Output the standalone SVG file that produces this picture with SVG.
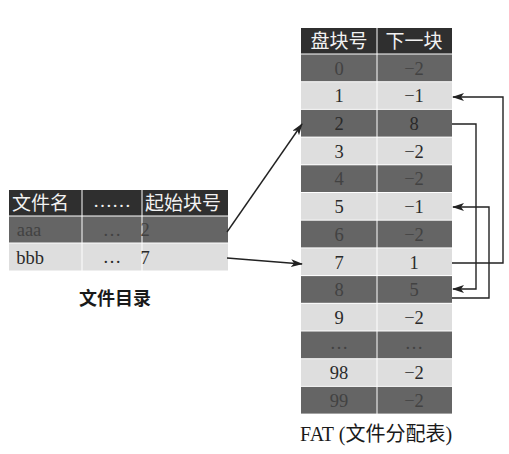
<svg xmlns="http://www.w3.org/2000/svg" width="509" height="454" viewBox="0 0 509 454">
<defs>
<marker id="ah" markerWidth="12" markerHeight="8" refX="11" refY="4" orient="auto" markerUnits="userSpaceOnUse">
<path d="M0,0 L12,4 L0,8 L3,4 z" fill="#222"/>
</marker>
<style>
.hd{fill:#2f2f2f}
.dk{fill:#656565}
.lt{fill:#dedede}
.th{font-family:"Liberation Serif","Noto Sans CJK SC",serif;font-size:19px;fill:#f2f2f2}
.tx{font-family:"Liberation Serif","Noto Sans CJK SC",serif;font-size:18.5px;text-anchor:middle}
.td{fill:#424242}
.tl{fill:#2a2a2a}
.ln{fill:none;stroke:#222;stroke-width:1.4}
</style>
</defs>
<rect width="509" height="454" fill="#ffffff"/>

<g id="dir-table">
<rect class="hd" x="9" y="190" width="72.5" height="25.5"/>
<rect class="hd" x="82.5" y="190" width="59" height="25.5"/>
<rect class="hd" x="142.5" y="190" width="85.5" height="25.5"/>
<rect class="dk" x="9" y="216.5" width="72.5" height="26"/>
<rect class="dk" x="82.5" y="216.5" width="59" height="26"/>
<rect class="dk" x="142.5" y="216.5" width="85.5" height="26"/>
<rect class="lt" x="9" y="243.5" width="72.5" height="27"/>
<rect class="lt" x="82.5" y="243.5" width="59" height="27"/>
<rect class="lt" x="142.5" y="243.5" width="85.5" height="27"/>
<text class="th" x="12" y="210">文件名</text>
<text class="th" x="112" y="207" text-anchor="middle">……</text>
<text class="th" x="145" y="210">起始块号</text>
<text class="tx td" x="29" y="236">aaa</text>
<text class="tx td" x="112" y="236">…</text>
<text class="tx td" x="145" y="236" text-anchor="start">2</text>
<text class="tx tl" x="30" y="264">bbb</text>
<text class="tx tl" x="112" y="263">…</text>
<text class="tx tl" x="145" y="264" text-anchor="start">7</text>
</g>
<g id="dir-label">
<text x="115" y="305" text-anchor="middle" font-family="'Noto Sans CJK SC',sans-serif" font-weight="bold" font-size="18" fill="#1a1a1a">文件目录</text>
</g>

<g id="fat-table">
<rect class="hd" x="301" y="28" width="75.5" height="25.5"/>
<rect class="hd" x="377.5" y="28" width="74.5" height="25.5"/>
<text class="th" x="339" y="48" text-anchor="middle">盘块号</text>
<text class="th" x="414" y="48" text-anchor="middle">下一块</text>

<rect class="dk" x="301" y="54.5" width="75.5" height="26.7"/><rect class="dk" x="377.5" y="54.5" width="74.5" height="26.7"/>
<text class="tx td" x="339" y="74.5">0</text><text class="tx td" x="414" y="74.5">−2</text>

<rect class="lt" x="301" y="82.2" width="75.5" height="26.7"/><rect class="lt" x="377.5" y="82.2" width="74.5" height="26.7"/>
<text class="tx tl" x="339" y="102">1</text><text class="tx tl" x="414" y="102">−1</text>

<rect class="dk" x="301" y="109.9" width="75.5" height="26.7"/><rect class="dk" x="377.5" y="109.9" width="74.5" height="26.7"/>
<text class="tx tl" x="339" y="129.5">2</text><text class="tx tl" x="414" y="129.5">8</text>

<rect class="lt" x="301" y="137.6" width="75.5" height="26.7"/><rect class="lt" x="377.5" y="137.6" width="74.5" height="26.7"/>
<text class="tx tl" x="339" y="157.5">3</text><text class="tx tl" x="414" y="157.5">−2</text>

<rect class="dk" x="301" y="165.3" width="75.5" height="26.7"/><rect class="dk" x="377.5" y="165.3" width="74.5" height="26.7"/>
<text class="tx td" x="339" y="185">4</text><text class="tx td" x="414" y="185">−2</text>

<rect class="lt" x="301" y="193" width="75.5" height="26.7"/><rect class="lt" x="377.5" y="193" width="74.5" height="26.7"/>
<text class="tx tl" x="339" y="212.5">5</text><text class="tx tl" x="414" y="212.5">−1</text>

<rect class="dk" x="301" y="220.7" width="75.5" height="26.7"/><rect class="dk" x="377.5" y="220.7" width="74.5" height="26.7"/>
<text class="tx td" x="339" y="240.5">6</text><text class="tx td" x="414" y="240.5">−2</text>

<rect class="lt" x="301" y="248.4" width="75.5" height="26.7"/><rect class="lt" x="377.5" y="248.4" width="74.5" height="26.7"/>
<text class="tx tl" x="339" y="268.5">7</text><text class="tx tl" x="414" y="268.5">1</text>

<rect class="dk" x="301" y="276.1" width="75.5" height="26.7"/><rect class="dk" x="377.5" y="276.1" width="74.5" height="26.7"/>
<text class="tx td" x="339" y="296">8</text><text class="tx td" x="414" y="296">5</text>

<rect class="lt" x="301" y="303.8" width="75.5" height="26.7"/><rect class="lt" x="377.5" y="303.8" width="74.5" height="26.7"/>
<text class="tx tl" x="339" y="323.5">9</text><text class="tx tl" x="414" y="323.5">−2</text>

<rect class="dk" x="301" y="331.5" width="75.5" height="26.7"/><rect class="dk" x="377.5" y="331.5" width="74.5" height="26.7"/>
<text class="tx td" x="339" y="349">…</text><text class="tx td" x="414" y="349">…</text>

<rect class="lt" x="301" y="359.2" width="75.5" height="26.7"/><rect class="lt" x="377.5" y="359.2" width="74.5" height="26.7"/>
<text class="tx tl" x="339" y="379">98</text><text class="tx tl" x="414" y="379">−2</text>

<rect class="dk" x="301" y="386.9" width="75.5" height="26.7"/><rect class="dk" x="377.5" y="386.9" width="74.5" height="26.7"/>
<text class="tx td" x="339" y="406.5">99</text><text class="tx td" x="414" y="406.5">−2</text>
</g>
<g id="fat-label">
<text x="300" y="441" font-family="'Liberation Serif','Noto Sans CJK SC',serif" font-size="20" fill="#1a1a1a">FAT (文件分配表)</text>
</g>

<g id="connectors">
<line class="ln" x1="227" y1="232" x2="302" y2="124" marker-end="url(#ah)"/>
<line class="ln" x1="227" y1="258" x2="302" y2="264" marker-end="url(#ah)"/>
<polyline class="ln" points="452,124 476,124 476,289 453,289" marker-end="url(#ah)"/>
<polyline class="ln" points="452,263 503,263 503,97 453,97" marker-end="url(#ah)"/>
<polyline class="ln" points="452,298 489,298 489,207 453,207" marker-end="url(#ah)"/>
</g>
</svg>
